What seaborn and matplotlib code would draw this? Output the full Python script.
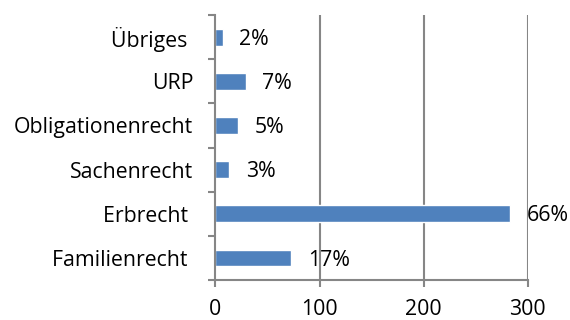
import matplotlib
matplotlib.use("Agg")
import matplotlib.pyplot as plt
import seaborn as sns
import pandas as pd
import numpy as np

categories = ["Übriges ", "URP", "Obligationenrecht", "Sachenrecht", "Erbrecht ", "Familienrecht "]
counts = [7, 29, 22, 13, 283, 73]
shares = ["2%", "7%", "5%", "3%", "66%", "17%"]
x_ticks = [0, 100, 200, 300]

sns.set_theme(style="white")
plt.rcParams["font.family"] = ["Open Sans", "DejaVu Sans"]

df = pd.DataFrame({"Bereich": categories, "Anzahl": counts})

fig = plt.figure(figsize=(5.7, 3.2), dpi=100)
ax = fig.add_axes([0.378, 0.125, 0.548, 0.828])

sns.barplot(data=df, y="Bereich", x="Anzahl", color="#4F81BD", width=0.38,
            saturation=1, ax=ax, orient="h")

ax.set_xlim(0, 300)
ax.set_ylim(len(categories) - 0.5, -0.5)
ax.set_xlabel("")
ax.set_ylabel("")

grid_col = "#868686"
for v in x_ticks[1:]:
    ax.axvline(v, color=grid_col, lw=1.5, zorder=0)

for s in ["top", "right"]:
    ax.spines[s].set_visible(False)
for s in ["left", "bottom"]:
    ax.spines[s].set_color(grid_col)
    ax.spines[s].set_linewidth(1.5)

fs = 15.3
ax.set_xticks(x_ticks)
ax.set_xticklabels([str(t) for t in x_ticks], fontsize=fs, color="black")
ax.tick_params(axis="x", direction="out", length=5, width=1.5, color=grid_col, pad=9, bottom=True)

# category separators as major ticks, names as minor ticks
pos = np.arange(len(categories))
ax.set_yticks(np.arange(len(categories) + 1) - 0.5)
ax.set_yticklabels([])
ax.tick_params(axis="y", which="major", direction="out", length=5, width=1.5, color=grid_col, left=True)
ax.set_yticks(pos, minor=True)
ax.set_yticklabels(categories, minor=True, fontsize=fs, color="black")
ax.tick_params(axis="y", which="minor", length=0, pad=16)

for i, (v, lab) in enumerate(zip(counts, shares)):
    ax.annotate(lab, xy=(v, i), xytext=(12, -1.5), textcoords="offset points",
                ha="left", va="center", fontsize=fs, color="black")

fig.savefig("out.png", dpi=100)
